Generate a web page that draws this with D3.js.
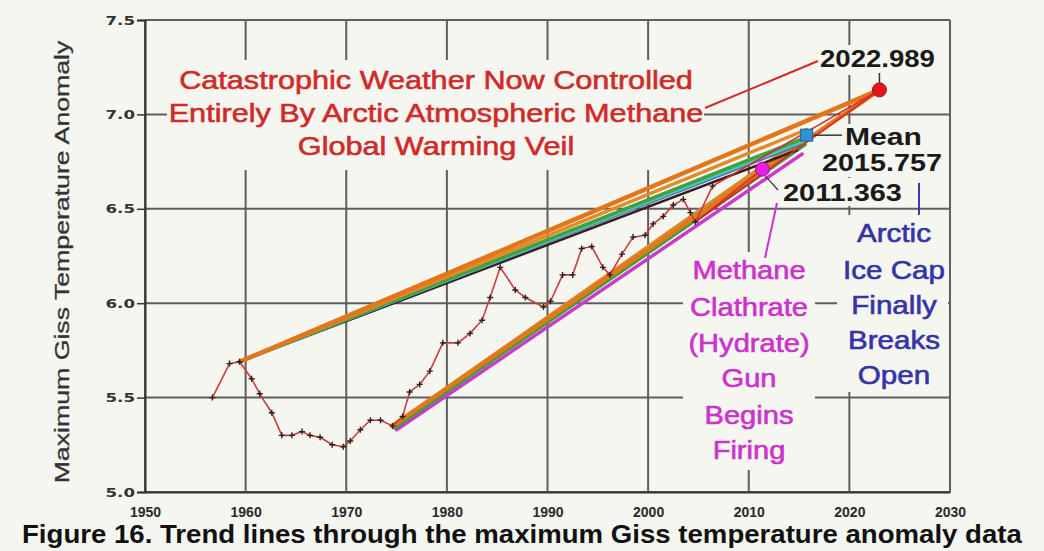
<!DOCTYPE html>
<html><head><meta charset="utf-8">
<script src="https://cdn.jsdelivr.net/npm/d3@7/dist/d3.min.js"></script>
<style>html,body{margin:0;padding:0;background:#f6f6f0;overflow:hidden}</style>
</head><body>
<svg id="c" width="1044" height="551"></svg>
<script>
// ---------------- DATA ----------------
const xTicks = [1950,1960,1970,1980,1990,2000,2010,2020,2030];
const yTicks = [5.0,5.5,6.0,6.5,7.0,7.5];
const seriesYears = [1956.7,1958.4,1959.4,1960.6,1961.4,1962.6,1963.6,1964.6,1965.6,1966.4,1967.4,1968.6,1969.7,1970.4,1971.4,1972.4,1973.4,1974.6,1975.6,1976.3,1977.3,1978.3,1979.6,1981.1,1982.3,1983.5,1984.3,1985.3,1986.8,1987.8,1989.6,1990.3,1991.5,1992.5,1993.4,1994.4,1995.5,1996.2,1997.4,1998.5,1999.7,2000.5,2001.5,2002.5,2003.5,2004.2,2004.7,2006.4];
const seriesValues = [5.50,5.68,5.69,5.60,5.52,5.42,5.30,5.30,5.32,5.30,5.29,5.25,5.24,5.27,5.33,5.38,5.38,5.35,5.40,5.53,5.57,5.64,5.79,5.79,5.84,5.91,6.03,6.19,6.07,6.03,5.98,6.01,6.15,6.15,6.29,6.30,6.19,6.15,6.26,6.35,6.36,6.42,6.46,6.52,6.55,6.48,6.43,6.62];
const keyYears = [2022.989, 2015.757, 2011.363];
const keyValues = [7.13, 6.89, 6.71];
const keyLabels = ["2022.989", "2015.757", "2011.363"];
// trend lines: start / end
const trendStartYears  = [1975.0,1974.8,1974.6,1974.6,1974.6, 1959.4,1959.4,1959.4,1959.4,1959.4,1959.4, 2004.7,2006.4,2004.7];
const trendStartValues = [5.33,5.34,5.35,5.35,5.35, 5.69,5.69,5.69,5.69,5.69,5.69, 6.43,6.62,6.43];
const trendEndYears    = [2015.3,2015.6,2011.363,2015.757,2022.989, 2014.8,2015.2,2015.5,2015.757,2015.757,2022.989, 2022.989,2022.989,2011.363];
const trendEndValues   = [6.79,6.84,6.71,6.89,7.13, 6.81,6.84,6.86,6.88,6.92,7.13, 7.13,7.13,6.71];
const trendColors = ["#c93ccb","#3f9e3a","#3a2020","#d98a2e","#e2781c", "#3a1e1e","#4a78a8","#4cc4c4","#3fa23c","#e38a2a","#e2761a", "#d42a2a","#d42a2a","#d42a2a"];
const trendWidths = [3.5,3.5,1.5,3.5,4.5, 2.5,2,3,3.5,3.5,4.5, 1.5,1.5,1.5];
const redText = ["Catastrophic Weather Now Controlled","Entirely By Arctic Atmospheric Methane","Global Warming Veil"];
const magentaText = ["Methane","Clathrate","(Hydrate)","Gun","Begins","Firing"];
const blueText = ["Arctic","Ice Cap","Finally","Breaks","Open"];
const yTitle = "Maximum Giss Temperature Anomaly";
const caption = "Figure 16. Trend lines through the maximum Giss temperature anomaly data";

// ---------------- CHART ----------------
const BG = "#f6f6f0";
const svg = d3.select("#c");
svg.append("rect").attr("width",1044).attr("height",551).attr("fill",BG);
const x = d3.scaleLinear().domain([1950,2030]).range([145,950]);
const y = d3.scaleLinear().domain([5,7.5]).range([492,20]);

// grid
const grid = svg.append("g").attr("stroke","#5e5e5e").attr("stroke-width",2);
grid.selectAll(".v").data(xTicks).join("line")
  .attr("x1",d=>x(d)).attr("x2",d=>x(d)).attr("y1",y(7.5)).attr("y2",y(5));
grid.selectAll(".h").data(yTicks).join("line")
  .attr("x1",x(1950)).attr("x2",x(2030)).attr("y1",d=>y(d)).attr("y2",d=>y(d));

// masks behind text blocks (hide grid)
const masks = [[167,60,537,110],[683,252,132,218],[837,215,111,177],[815,45,125,30],[818,124,128,53],[778,178,130,28]];
svg.append("g").selectAll("rect").data(masks).join("rect")
  .attr("x",d=>d[0]).attr("y",d=>d[1]).attr("width",d=>d[2]).attr("height",d=>d[3]).attr("fill",BG);

// axes
const yAxis = d3.axisLeft(y).tickValues(yTicks).tickFormat(d3.format(".1f")).tickSize(8).tickPadding(3);
const gy = svg.append("g").attr("transform",`translate(${x(1950)},0)`).call(yAxis);
gy.select(".domain").attr("stroke","#333").attr("stroke-width",2);
gy.selectAll(".tick line").attr("stroke","#333").attr("stroke-width",1.5);
gy.selectAll(".tick text").attr("font-family","DejaVu Sans").attr("font-weight","bold").attr("font-size",11.5)
  .attr("fill","#333").attr("x",0).attr("dy","0.36em")
  .attr("transform","translate(-10,0) scale(1.45,1)");

const xAxis = d3.axisBottom(x).tickValues(xTicks).tickFormat(d3.format("d")).tickSize(0).tickPadding(15);
const gx = svg.append("g").attr("transform",`translate(0,${y(5)})`).call(xAxis);
gx.select(".domain").attr("stroke","#333").attr("stroke-width",2);
gx.selectAll(".tick text").attr("font-family","Liberation Sans").attr("font-weight","bold").attr("font-size",14)
  .attr("fill","#2a2a2a");

// y title
const yt = svg.append("text").text(yTitle).attr("font-family","Liberation Sans").attr("font-size",21)
  .attr("fill","#333").attr("text-anchor","middle").attr("stroke","#333").attr("stroke-width",0.3);
{
  const w = yt.node().getComputedTextLength();
  yt.attr("transform",`translate(69,262) rotate(-90) scale(${443/w},1)`);
}

// trend lines
const trendIdx = d3.range(trendStartYears.length);
svg.append("g").attr("fill","none").attr("stroke-linecap","round").selectAll("line").data(trendIdx).join("line")
  .attr("x1",i=>x(trendStartYears[i])).attr("y1",i=>y(trendStartValues[i]))
  .attr("x2",i=>x(trendEndYears[i])).attr("y2",i=>y(trendEndValues[i]))
  .attr("stroke",i=>trendColors[i]).attr("stroke-width",i=>trendWidths[i]);

// series
const sIdx = d3.range(seriesYears.length);
svg.append("path").datum(sIdx)
  .attr("d",d3.line().x(i=>x(seriesYears[i])).y(i=>y(seriesValues[i])))
  .attr("fill","none").attr("stroke","#cf3a3a").attr("stroke-width",1.6);
svg.append("g").attr("stroke","#222").attr("stroke-width",1.4).selectAll("path").data(sIdx).join("path")
  .attr("d",i=>{const px=x(seriesYears[i]),py=y(seriesValues[i]);return `M${px-3},${py}H${px+3}M${px},${py-3}V${py+3}`;});

// connectors
const conn = svg.append("g").attr("fill","none");
const R = [x(keyYears[0]),y(keyValues[0])], M=[x(keyYears[1]),y(keyValues[1])], G=[x(keyYears[2]),y(keyValues[2])];
conn.append("line").attr("x1",705).attr("y1",108).attr("x2",818).attr("y2",61).attr("stroke","#d02a2a").attr("stroke-width",2);
conn.append("line").attr("x1",R[0]).attr("y1",R[1]-7).attr("x2",R[0]).attr("y2",73).attr("stroke","#333").attr("stroke-width",1.5);
conn.append("line").attr("x1",M[0]+7).attr("y1",M[1]).attr("x2",842).attr("y2",M[1]).attr("stroke","#333").attr("stroke-width",1.5);
conn.append("line").attr("x1",G[0]+3).attr("y1",G[1]+7).attr("x2",778).attr("y2",190).attr("stroke","#333").attr("stroke-width",1.2);
conn.append("line").attr("x1",765).attr("y1",258).attr("x2",777).attr("y2",203).attr("stroke","#cc33cc").attr("stroke-width",2);
conn.append("line").attr("x1",919).attr("y1",183).attr("x2",919).attr("y2",215).attr("stroke","#3a3aaa").attr("stroke-width",2);

// key markers
svg.append("circle").attr("cx",R[0]).attr("cy",R[1]).attr("r",7).attr("fill","#e5141a").attr("stroke","#a01010").attr("stroke-width",1);
svg.append("rect").attr("x",M[0]-6).attr("y",M[1]-6).attr("width",12).attr("height",12).attr("fill","#2f95d2").attr("stroke","#1f5f90").attr("stroke-width",1);
svg.append("circle").attr("cx",G[0]).attr("cy",G[1]).attr("r",7).attr("fill","#e820e0").attr("stroke","#a010a0").attr("stroke-width",1);

// text helpers
function block(lines, cx, baselines, size, weight, color, refIdx, refW, anchor, sw){
  const g = svg.append("g");
  const ts = lines.map((t,i)=>g.append("text").text(t).attr("font-family","Liberation Sans")
     .attr("font-size",size).attr("font-weight",weight).attr("fill",color).attr("text-anchor",anchor||"middle")
     .attr("stroke",color).attr("stroke-width",sw||0));
  const sx = refW / ts[refIdx].node().getComputedTextLength();
  ts.forEach((t,i)=>t.attr("transform",`translate(${Array.isArray(cx)?cx[i]:cx},${baselines[i]}) scale(${sx},1)`));
}
block(redText, 436, [89,122,155], 26, "normal", "#cf2b2b", 1, 535, "middle", 0.6);
block(magentaText, 749, [279,316,352,387,424,459], 25, "normal", "#cc33cc", 1, 118, "middle", 0.6);
block(blueText, 894, [242,279,314,349,384], 25, "normal", "#3434a8", 1, 102, "middle", 0.6);
block([keyLabels[0]], 820, [67], 23, "bold", "#1a1a1a", 0, 115, "start");
block(["Mean"], 845, [145], 23, "bold", "#1a1a1a", 0, 77, "start");
block([keyLabels[1]], 822, [171], 23, "bold", "#1a1a1a", 0, 120, "start");
block([keyLabels[2]], 783, [201], 23, "bold", "#1a1a1a", 0, 119, "start");
block([caption], 22, [543], 25, "bold", "#111", 0, 1000, "start");
</script>
</body></html>
